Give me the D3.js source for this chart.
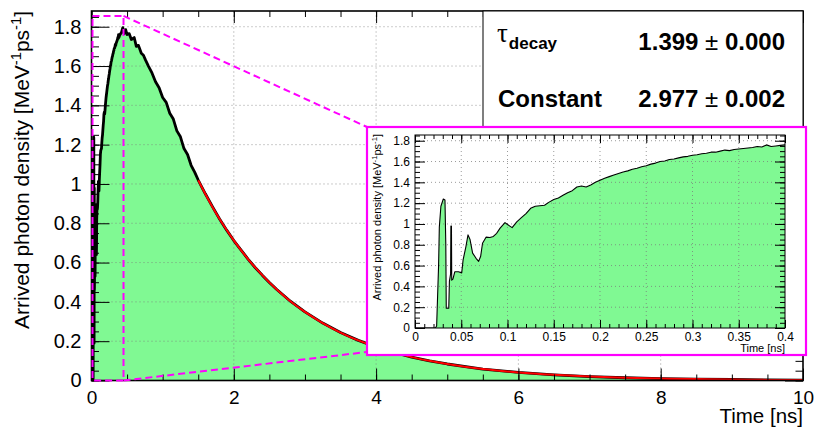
<!DOCTYPE html>
<html><head><meta charset="utf-8">
<script src="https://cdn.jsdelivr.net/npm/d3@7"></script>
<style>
html,body{margin:0;padding:0;background:#fff;}
svg{display:block;font-family:"Liberation Sans",Arial,Helvetica,sans-serif;}
</style></head><body>
<svg id="c" width="814" height="428"></svg>
<script>
// ---------- data ----------
const earlyTime = [0,0.022,0.0234,0.0255,0.0263,0.028,0.0306,0.0324,0.0333,0.0338,0.0365,0.0372,0.0385,0.0388,0.0394,0.0397,0.041,0.043,0.047,0.0505,0.052,0.055,0.0573,0.0595,0.0623,0.066,0.0688,0.071,0.073,0.0768,0.081,0.0847,0.0883,0.092,0.0973,
 0.100,0.105,0.110,0.115,0.120,0.125,0.130,0.135,0.140,0.145,0.150,0.155,0.160,0.165,0.170,0.175,0.180,0.185,0.190,0.195,0.200,0.205,0.210,0.215,0.220,0.225,0.230,0.235,0.240,0.245,0.250,0.255,0.260,0.265,0.270,0.275,0.280,0.285,0.290,0.295,0.300,0.305,0.310,0.315,0.320,0.325,0.330,0.335,0.340,0.345,0.350,0.355,0.360,0.365,0.370,0.375,0.380,0.385,0.390,0.395,0.400];
const earlyDensity = [0,0,0.02,0.6,0.97,1.17,1.24,1.23,0.8,0.19,0.19,0.45,0.52,0.98,0.98,0.46,0.47,0.54,0.54,0.53,0.655,0.78,0.895,0.85,0.72,0.67,0.64,0.69,0.815,0.873,0.87,0.88,0.91,0.96,1.013,
 0.995,0.965,1.02,1.06,1.10,1.15,1.17,1.175,1.18,1.21,1.235,1.25,1.275,1.30,1.32,1.355,1.365,1.355,1.375,1.40,1.42,1.44,1.455,1.47,1.485,1.50,1.51,1.525,1.535,1.55,1.56,1.575,1.585,1.60,1.605,1.62,1.625,1.635,1.645,1.65,1.66,1.665,1.675,1.68,1.69,1.69,1.70,1.71,1.705,1.715,1.72,1.725,1.73,1.735,1.745,1.74,1.76,1.745,1.75,1.755,1.76];
const tailTime = [0.42,0.44,0.46,0.48,0.5,0.53,0.56,0.6,0.63,0.66,0.7,0.73,0.76,0.8,0.85,0.9,0.95,1.0,1.05,1.1,1.15,1.2,1.25,1.3,1.35,1.4,1.45,1.5,1.6,1.7,1.8,1.9,2.0,2.1,2.2,2.3,2.4,2.5,2.6,2.8,3.0,3.25,3.5,3.75,4.0,4.25,4.5,4.75,5.0,5.5,6.0,6.5,7.0,7.5,8.0,8.5,9.0,9.5,10];
const tailDensity = [1.77,1.795,1.765,1.785,1.76,1.765,1.735,1.745,1.70,1.705,1.665,1.655,1.63,1.60,1.565,1.52,1.49,1.44,1.415,1.36,1.33,1.27,1.24,1.18,1.15,1.095,1.06,1.02,0.95,0.885,0.822,0.765,0.712,0.665,0.618,0.575,0.536,0.499,0.464,0.402,0.349,0.292,0.244,0.204,0.171,0.143,0.119,0.10,0.084,0.058,0.041,0.029,0.020,0.014,0.010,0.007,0.005,0.003,0.002];
const fitTime = [1.5,1.6,1.7,1.8,1.9,2.0,2.2,2.4,2.6,2.8,3.0,3.25,3.5,3.75,4.0,4.25,4.5,4.75,5.0,5.5,6.0,6.5,7.0,7.5,8.0,8.5,9.0,9.5,10];
const fitDensity = [1.019,0.949,0.883,0.822,0.766,0.713,0.618,0.536,0.464,0.402,0.349,0.292,0.244,0.204,0.171,0.143,0.119,0.100,0.084,0.058,0.041,0.029,0.020,0.014,0.010,0.007,0.005,0.003,0.002];
const mainXTicks = [0,2,4,6,8,10];
const mainYTicks = [0,0.2,0.4,0.6,0.8,1,1.2,1.4,1.6,1.8];
const insetXTicks = [0,0.05,0.1,0.15,0.2,0.25,0.3,0.35,0.4];
const insetYTicks = [0,0.2,0.4,0.6,0.8,1,1.2,1.4,1.6,1.8];
const zoomBox = [0,0.45,0,1.855];
const statNames = ["decay","Constant"];
const statValues = ["1.399","2.977"];
const statErrors = ["0.000","0.002"];

const GREEN = "#80f993";
const svg = d3.select("#c");
svg.append("rect").attr("width",814).attr("height",428).attr("fill","#fff");

const fmt = d => (d===0?"0":String(+d.toFixed(2)));

function drawPanel(g, opt){
  const {x,y,xt,yt,xMinor,yMinor,xMaj,xMin,yMaj,yMin,series,lw,fs,clipId} = opt;
  const [x0,x1] = x.range(), [y0,y1] = y.range(); // y0 bottom
  g.append("clipPath").attr("id",clipId).append("rect")
   .attr("x",x0).attr("y",y1).attr("width",x1-x0).attr("height",y0-y1);
  const pts = series.t.map((t,i)=>[t,series.v[i]]);
  const area = d3.area().x(d=>x(d[0])).y0(y(0)).y1(d=>y(d[1]));
  const line = d3.line().x(d=>x(d[0])).y(d=>y(d[1]));
  const cg = g.append("g").attr("clip-path",`url(#${clipId})`);
  cg.append("path").attr("d",area(pts)).attr("fill",GREEN);
  // grid
  const grid = cg.append("g").attr("stroke","#7a7a7a").attr("stroke-opacity",0.75)
    .attr("stroke-width",1).attr("stroke-dasharray","1,3");
  xt.filter(v=>v>x.domain()[0]&&v<x.domain()[1]).forEach(v=>grid.append("line")
    .attr("x1",x(v)).attr("x2",x(v)).attr("y1",y0).attr("y2",y1));
  yt.filter(v=>v>0).forEach(v=>grid.append("line")
    .attr("x1",x0).attr("x2",x1).attr("y1",y(v)).attr("y2",y(v)));
  cg.append("path").attr("d",line(pts)).attr("fill","none").attr("stroke","#000")
    .attr("stroke-width",lw).attr("stroke-linejoin","round");
  if(opt.fit){
    const fp = opt.fit.t.map((t,i)=>[t,opt.fit.v[i]]);
    cg.append("path").attr("d",d3.line().curve(d3.curveMonotoneX).x(d=>x(d[0])).y(d=>y(d[1]))(fp))
      .attr("fill","none").attr("stroke","#ff0000").attr("stroke-width",2);
  }
  // axes
  const mk = (gen, sel, tv, size, labels, fsz) => {
    const a = gen.tickValues(tv).tickSize(size).tickPadding(opt.pad);
    if(!labels) a.tickFormat("");
    else a.tickFormat(fmt);
    sel.call(a);
    sel.select(".domain").remove();
    sel.selectAll(".tick line").attr("stroke","#000").attr("stroke-width",1);
    sel.selectAll("text").attr("font-size",fsz||fs).attr("fill","#000").attr("font-family","Liberation Sans, Arial, sans-serif");
    return sel;
  };
  const gb = g.append("g").attr("transform",`translate(0,${y0})`);
  mk(d3.axisBottom(x), gb.append("g"), xMinor, -xMin, false);
  const bl = mk(d3.axisBottom(x), gb.append("g"), xt, -xMaj, true, opt.xfs);
  bl.selectAll("text").attr("y",opt.xLabDy).attr("dy",0);
  const gt = g.append("g").attr("transform",`translate(0,${y1})`);
  mk(d3.axisTop(x), gt.append("g"), xMinor, -xMin, false);
  mk(d3.axisTop(x), gt.append("g"), xt, -xMaj, false);
  const gl = g.append("g").attr("transform",`translate(${x0},0)`);
  mk(d3.axisLeft(y), gl.append("g"), yMinor, -yMin, false);
  const ll = mk(d3.axisLeft(y), gl.append("g"), yt, -yMaj, true);
  ll.selectAll("text").attr("x",-opt.yLabDx);
  const gr = g.append("g").attr("transform",`translate(${x1},0)`);
  mk(d3.axisRight(y), gr.append("g"), yMinor, -yMin, false);
  mk(d3.axisRight(y), gr.append("g"), yt, -yMaj, false);
  g.append("rect").attr("x",x0).attr("y",y1).attr("width",x1-x0).attr("height",y0-y1)
    .attr("fill","none").attr("stroke","#000").attr("stroke-width",opt.frameW);
}

function yTitle(g, xPos, yEnd, fs){
  const t = g.append("text").attr("transform",`translate(${xPos},${yEnd}) rotate(-90)`)
    .attr("text-anchor","end").attr("font-size",fs).attr("fill","#000");
  t.append("tspan").text("Arrived photon density [MeV");
  t.append("tspan").attr("font-size",fs*0.7).attr("dy",-fs*0.38).text("-1");
  t.append("tspan").attr("dy",fs*0.38).text("ps");
  t.append("tspan").attr("font-size",fs*0.7).attr("dy",-fs*0.38).text("-1");
  t.append("tspan").attr("dy",fs*0.38).text("]");
}

// ---------- main panel ----------
const x = d3.scaleLinear().domain([0,10]).range([91.5,803]);
const y = d3.scaleLinear().domain([0,1.88]).range([380.5,11]);
const mainG = svg.append("g");
drawPanel(mainG,{x,y,xt:mainXTicks,yt:mainYTicks,
  xMinor:d3.range(0,10.001,0.5),yMinor:d3.range(0,1.88,0.05),
  xMaj:12,xMin:6,yMaj:18,yMin:7.5,lw:2.8,fs:20,xfs:19,pad:6,frameW:1.6,
  xLabDy:23.5,yLabDx:10,clipId:"clipMain",
  series:{t:earlyTime.concat(tailTime),v:earlyDensity.concat(tailDensity)},
  fit:{t:fitTime,v:fitDensity}});
mainG.append("text").attr("x",803).attr("y",422.5).attr("text-anchor","end")
  .attr("font-size",20.5).text("Time [ns]");
yTitle(mainG,29,11,21);

// ---------- zoom indicator ----------
const insetBox = {x:367,y:127,w:439,h:228};
const mg = svg.append("g").attr("stroke","#ff00ff").attr("stroke-width",2)
  .attr("stroke-dasharray","7,4").attr("fill","none");
mg.append("rect").attr("x",x(zoomBox[0])+1).attr("y",y(zoomBox[3]))
  .attr("width",x(zoomBox[1])-x(zoomBox[0])-1).attr("height",y(zoomBox[2])-y(zoomBox[3]));
mg.append("line").attr("x1",x(zoomBox[1])).attr("y1",y(zoomBox[3])).attr("x2",insetBox.x).attr("y2",insetBox.y);
mg.append("line").attr("x1",x(zoomBox[1])).attr("y1",y(zoomBox[2])).attr("x2",insetBox.x).attr("y2",insetBox.y+insetBox.h-3);

// ---------- stats box ----------
const sg = svg.append("g");
sg.append("rect").attr("x",483).attr("y",11).attr("width",320).attr("height",130)
  .attr("fill","#fff").attr("stroke","#000").attr("stroke-width",1);
const tau = sg.append("text").attr("x",497).attr("y",42).attr("fill","#000");
tau.append("tspan").attr("font-family","Liberation Serif, serif").attr("font-size",27).text("τ");
tau.append("tspan").attr("font-weight","bold").attr("font-size",17).attr("dy",7).attr("dx",1).text(statNames[0]);
sg.append("text").attr("x",498).attr("y",107).attr("font-weight","bold").attr("font-size",24).text(statNames[1]);
[0,1].forEach(i=>{
  const yy = i===0?50:107;
  const t = sg.append("text").attr("x",785).attr("y",yy).attr("text-anchor","end").attr("font-size",24);
  t.append("tspan").attr("font-weight","bold").text(statValues[i]+" ");
  t.append("tspan").text("±");
  t.append("tspan").attr("font-weight","bold").text(" "+statErrors[i]);
});

// ---------- inset ----------
const ig = svg.append("g");
ig.append("rect").attr("x",insetBox.x).attr("y",insetBox.y).attr("width",insetBox.w).attr("height",insetBox.h)
  .attr("fill","#fff").attr("stroke","#ff00ff").attr("stroke-width",2.2);
const xi = d3.scaleLinear().domain([0,0.4]).range([415,785]);
const yi = d3.scaleLinear().domain([0,1.855]).range([328,135]);
drawPanel(ig,{x:xi,y:yi,xt:insetXTicks,yt:insetYTicks,
  xMinor:d3.range(0,0.4001,0.01),yMinor:d3.range(0,1.855,0.05),
  xMaj:8,xMin:4,yMaj:10,yMin:5,lw:1.1,fs:12,pad:4,frameW:1,
  xLabDy:12.5,yLabDx:5,clipId:"clipInset",
  series:{t:earlyTime,v:earlyDensity}});
ig.append("text").attr("x",785).attr("y",352).attr("text-anchor","end")
  .attr("font-size",11).text("Time [ns]");
yTitle(ig,381,134,11);
</script>
</body></html>
